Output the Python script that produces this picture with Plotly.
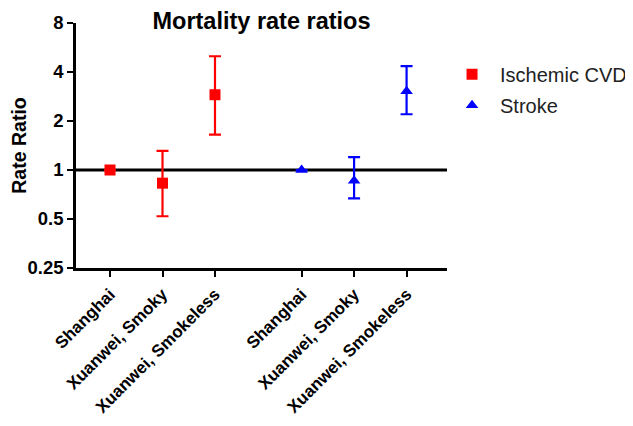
import plotly.graph_objects as go

# Data (rate ratio with 95% CI)
sites = ["Shanghai", "Xuanwei, Smoky", "Xuanwei, Smokeless"]
cvd_pos = [0, 1, 2]
stroke_pos = [3.65, 4.65, 5.65]

cvd_rr = [1.0, 0.83, 2.9]
cvd_lo = [None, 0.52, 1.65]
cvd_hi = [None, 1.31, 5.0]

stroke_rr = [1.0, 0.86, 3.05]
stroke_lo = [None, 0.67, 2.2]
stroke_hi = [None, 1.2, 4.35]

y_ticks = [0.25, 0.5, 1, 2, 4, 8]
x_range = [-0.648, 6.42]

FONT = "Arial, Liberation Sans, Helvetica, sans-serif"


def err(rr, lo, hi):
    plus = [None if h is None else h - r for r, h in zip(rr, hi)]
    minus = [None if l is None else r - l for r, l in zip(rr, lo)]
    return plus, minus


fig = go.Figure()

# reference line at ratio = 1
fig.add_trace(go.Scatter(
    x=x_range, y=[1, 1], mode='lines',
    line=dict(color='black', width=3),
    showlegend=False, hoverinfo='skip'
))

p, m = err(cvd_rr, cvd_lo, cvd_hi)
fig.add_trace(go.Scatter(
    x=cvd_pos, y=cvd_rr, mode='markers', name='Ischemic CVD',
    marker=dict(symbol='square', size=11, color='#ff0000'),
    error_y=dict(type='data', array=p, arrayminus=m, color='#ff0000',
                 thickness=2.2, width=6),
    legendgroup='a'
))

p, m = err(stroke_rr, stroke_lo, stroke_hi)
fig.add_trace(go.Scatter(
    x=stroke_pos, y=stroke_rr, mode='markers', name='Stroke',
    marker=dict(symbol='triangle-up', size=11, color='#0000ff'),
    error_y=dict(type='data', array=p, arrayminus=m, color='#0000ff',
                 thickness=2.2, width=6),
    legendgroup='b'
))

# page has an 8px body margin, so the figure is 8px smaller than the window
fig.update_layout(
    width=625, height=418,
    margin=dict(l=68, r=186, t=15, b=158, autoexpand=False),
    paper_bgcolor='white', plot_bgcolor='white',
    font=dict(family=FONT, color='black'),
    title=dict(text='<b>Mortality rate ratios</b>', font=dict(size=23.5),
               x=0.5, xref='paper', xanchor='center', y=0.99, yanchor='top',
               automargin=False),
    legend=dict(x=0.992, y=0.87, xanchor='left', yanchor='top',
                font=dict(size=20, color='#222222'), tracegroupgap=2, itemwidth=46),
    xaxis=dict(
        range=x_range, tickvals=cvd_pos + stroke_pos,
        ticktext=['<b>%s</b>' % s for s in sites + sites],
        tickangle=-45, showgrid=False, zeroline=False, automargin=False,
        showline=True, linecolor='black', linewidth=2.5,
        ticks='outside', ticklen=6, tickwidth=2, tickcolor='black',
        tickfont=dict(size=17, family=FONT), ticklabelstandoff=1
    ),
    yaxis=dict(
        type='log', range=[-0.60206, 0.90309], automargin=False,
        tickvals=y_ticks, ticktext=['<b>%g</b>' % v for v in y_ticks],
        showgrid=False, zeroline=False,
        showline=True, linecolor='black', linewidth=2.5,
        ticks='outside', ticklen=6, tickwidth=2, tickcolor='black',
        tickfont=dict(size=18.5, family=FONT),
        title=dict(text='<b>Rate Ratio</b>', font=dict(size=19.5), standoff=10)
    ),
)

fig.write_html("out.html")
